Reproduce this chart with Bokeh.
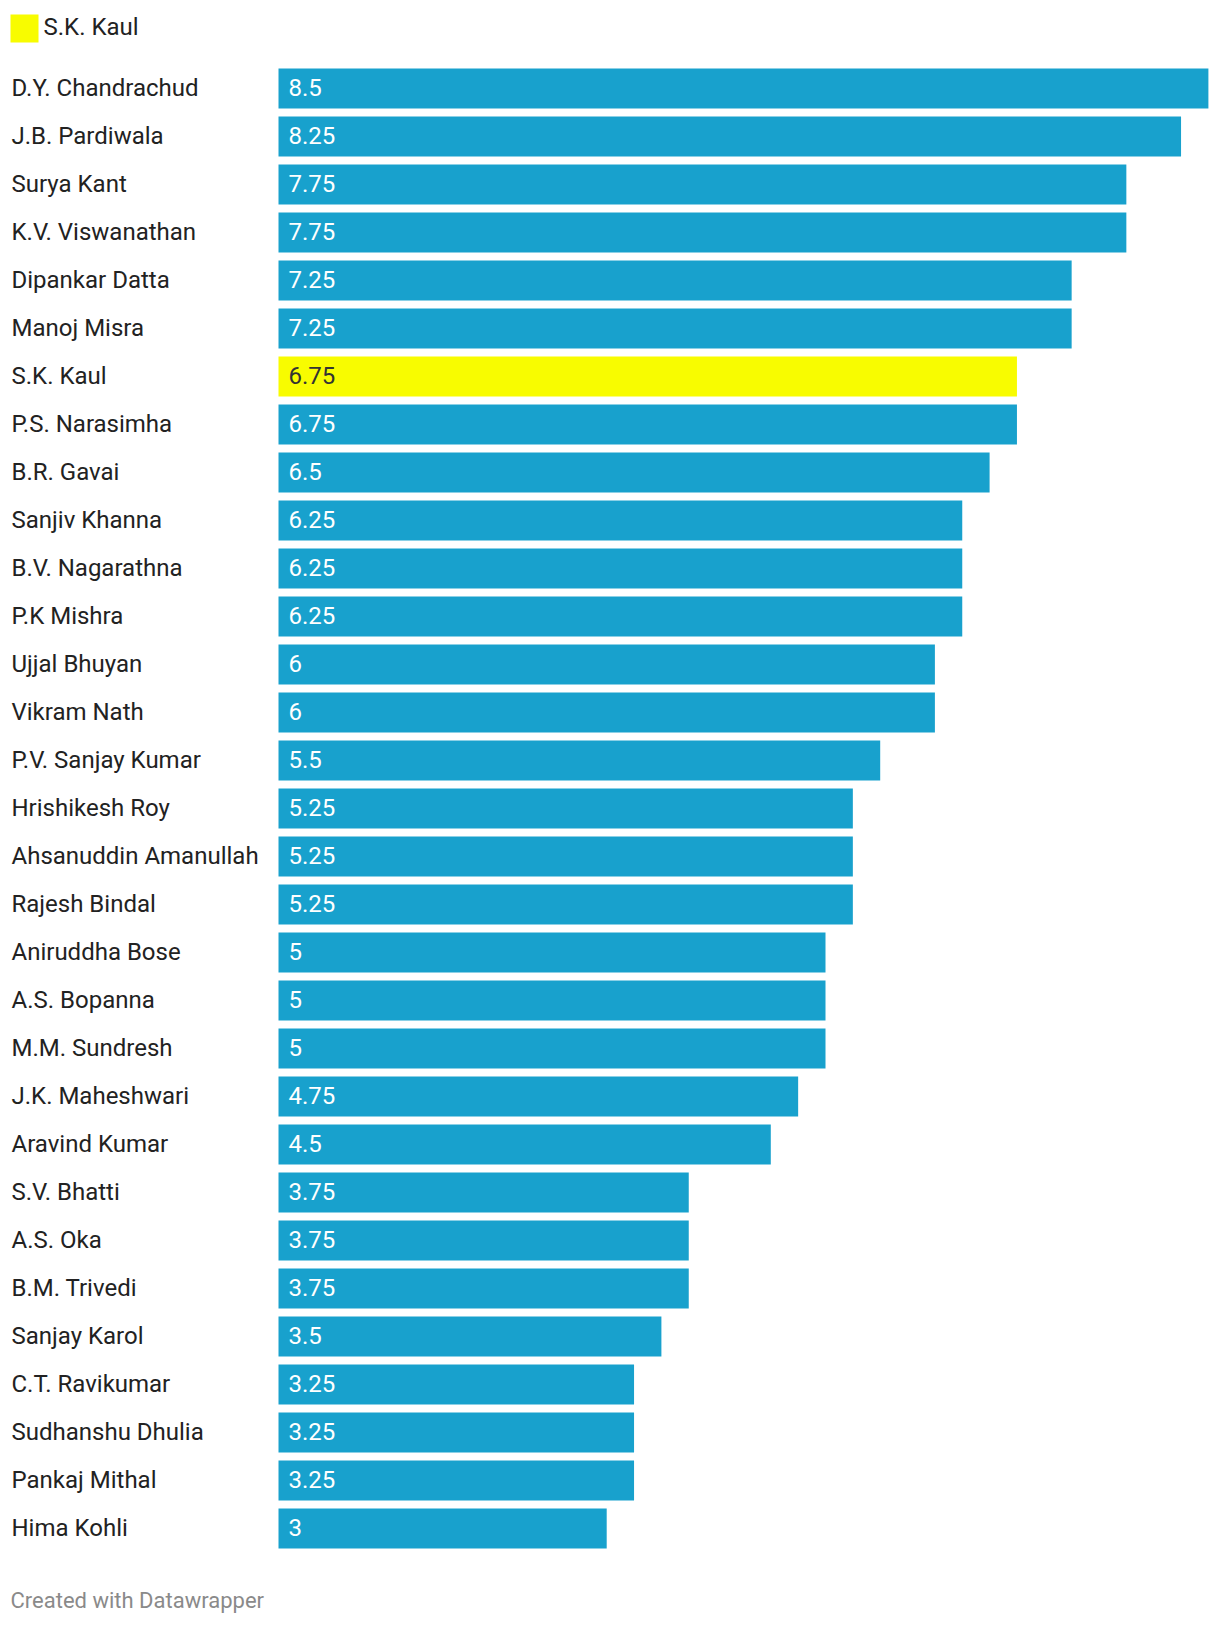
from bokeh.plotting import figure
from bokeh.models import ColumnDataSource, Range1d, Label
from bokeh.core.properties import value
from bokeh.embed import file_html
from bokeh.resources import INLINE

judges = [
    "D.Y. Chandrachud", "J.B. Pardiwala", "Surya Kant", "K.V. Viswanathan",
    "Dipankar Datta", "Manoj Misra", "S.K. Kaul", "P.S. Narasimha", "B.R. Gavai",
    "Sanjiv Khanna", "B.V. Nagarathna", "P.K Mishra", "Ujjal Bhuyan", "Vikram Nath",
    "P.V. Sanjay Kumar", "Hrishikesh Roy", "Ahsanuddin Amanullah", "Rajesh Bindal",
    "Aniruddha Bose", "A.S. Bopanna", "M.M. Sundresh", "J.K. Maheshwari",
    "Aravind Kumar", "S.V. Bhatti", "A.S. Oka", "B.M. Trivedi", "Sanjay Karol",
    "C.T. Ravikumar", "Sudhanshu Dhulia", "Pankaj Mithal", "Hima Kohli",
]
scores = [
    8.5, 8.25, 7.75, 7.75, 7.25, 7.25, 6.75, 6.75, 6.5, 6.25, 6.25, 6.25, 6, 6,
    5.5, 5.25, 5.25, 5.25, 5, 5, 5, 4.75, 4.5, 3.75, 3.75, 3.75, 3.5, 3.25, 3.25,
    3.25, 3,
]
highlight = "S.K. Kaul"
footer = "Created with Datawrapper"

BLUE = "#18a1cd"
YELLOW = "#f8fc00"
FONT = "Roboto"

W, H = 1216, 1622
BAR_X0 = 278      # px from left where value 0 sits
SCALE = 109.4     # px per unit
ROW0 = 88         # px from top to first row centre
PITCH = 48        # px per row


def px_x(px):
    return -BAR_X0 / SCALE + px / SCALE


def px_y(py):
    return -ROW0 / PITCH + py / PITCH


x_start = px_x(0)
x_end = px_x(W)
y_top = px_y(0)
y_bot = px_y(H)

ys = list(range(len(judges)))
colors = [YELLOW if j == highlight else BLUE for j in judges]
vcolors = ["#333333" if j == highlight else "#ffffff" for j in judges]
vlabels = [f"{v:g}" for v in scores]

src = ColumnDataSource(dict(y=ys, name=judges, score=scores, color=colors,
                            vcolor=vcolors, vlabel=vlabels))

p = figure(width=W, height=H, x_range=Range1d(x_start, x_end),
           y_range=Range1d(y_bot, y_top), output_backend="svg",
           toolbar_location=None, min_border=0,
           x_axis_location=None, y_axis_location=None)
p.grid.visible = False
p.outline_line_color = None
p.background_fill_color = "white"

p.hbar(y="y", left=0, right="score", height=40 / PITCH, fill_color="color",
       line_color=None, source=src)

p.text(x=px_x(11), y="y", text="name", source=src, y_offset=-1,
       text_font=value(FONT), text_font_size="24px", text_baseline="middle",
       text_align="left", text_color="#222222")

p.text(x=10 / SCALE, y="y", text="vlabel", source=src, y_offset=-1,
       text_font=value(FONT), text_font_size="24px", text_baseline="middle",
       text_align="left", text_color="vcolor")

# legend swatch + label
p.rect(x=[px_x(24)], y=[px_y(28)], width=28, height=28, width_units="screen",
       height_units="screen", fill_color=YELLOW, line_color=None)
p.add_layout(Label(x=px_x(43), y=px_y(26), text=highlight, text_font=FONT,
                   text_font_size="24px", text_color="#222222",
                   text_baseline="middle", text_align="left"))

p.add_layout(Label(x=px_x(10), y=px_y(1600), text=footer,
                   text_font=FONT, text_font_size="22px", text_color="#8a8a8a",
                   text_baseline="middle", text_align="left"))

open("out.html", "w").write(file_html(p, INLINE))
